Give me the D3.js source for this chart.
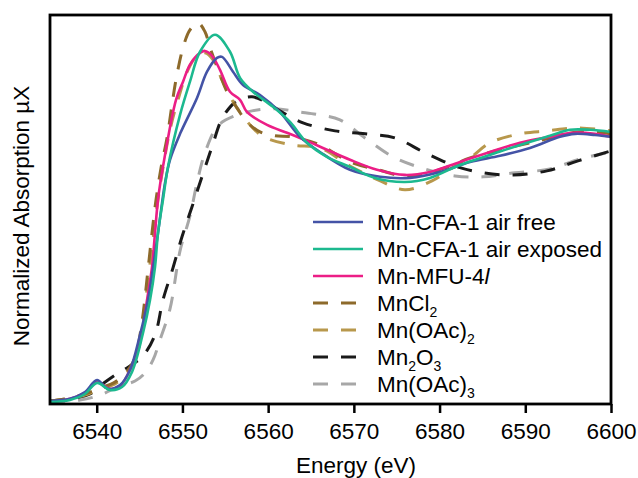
<!DOCTYPE html>
<html>
<head>
<meta charset="utf-8">
<script src="https://cdn.jsdelivr.net/npm/d3@7"></script>
<style>
  body { margin: 0; background: #fff; }
  svg { display: block; font-family: "Liberation Sans", Arial, sans-serif; }
</style>
</head>
<body>
<svg id="chart" width="638" height="478"></svg>
<script>
// spectra: [energy (eV), normalized absorption]
const airFree = [[6534.55,0.011],[6536.88,0.019],[6538.63,0.044],[6540.03,0.089],[6541.32,0.056],[6542.72,0.070],[6543.88,0.126],[6545.05,0.256],[6545.98,0.385],[6547.15,0.633],[6547.97,0.819],[6548.55,0.904],[6549.72,1.0],[6551.70,1.133],[6552.87,1.230],[6554.03,1.281],[6554.62,1.285],[6555.90,1.230],[6557.07,1.181],[6559.05,1.144],[6561.38,1.081],[6563.72,0.989],[6566.05,0.933],[6569.55,0.867],[6573.05,0.841],[6576.55,0.837],[6580.05,0.859],[6583.55,0.896],[6587.05,0.919],[6590.55,0.948],[6594.05,0.989],[6595.80,1.0],[6598.13,0.996],[6600,0.989]]
const airExposed = [[6534.55,0.007],[6536.88,0.015],[6538.63,0.037],[6540.03,0.078],[6541.55,0.052],[6542.95,0.063],[6544.12,0.119],[6545.40,0.263],[6546.22,0.385],[6546.80,0.507],[6547.15,0.633],[6547.73,0.756],[6548.32,0.878],[6549.72,1.070],[6550.88,1.193],[6552.05,1.304],[6553.80,1.367],[6555.55,1.304],[6556.72,1.207],[6558.23,1.156],[6560.57,1.100],[6562.55,1.044],[6564.53,0.967],[6566.86,0.915],[6569.55,0.878],[6572.46,0.837],[6575.96,0.822],[6578.88,0.837],[6582.38,0.885],[6585.88,0.922],[6589.38,0.959],[6592.88,0.993],[6595.21,1.015],[6597.55,1.015],[6600,1.007]]
const mfu4l = [[6534.55,0.007],[6536.88,0.019],[6538.63,0.041],[6540.03,0.081],[6541.55,0.056],[6542.72,0.067],[6543.88,0.126],[6545.28,0.263],[6545.87,0.385],[6546.45,0.507],[6546.80,0.633],[6547.15,0.756],[6547.73,0.878],[6549.25,1.126],[6550.07,1.193],[6550.88,1.256],[6552.05,1.300],[6552.63,1.307],[6553.45,1.289],[6554.38,1.237],[6555.55,1.156],[6556.72,1.126],[6557.53,1.081],[6559.87,1.033],[6562.20,1.004],[6564.53,0.974],[6566.86,0.941],[6569.55,0.904],[6572.70,0.867],[6575.96,0.848],[6578.88,0.859],[6582.38,0.896],[6585.88,0.933],[6589.38,0.967],[6592.88,0.989],[6595.56,1.004],[6598.13,1.0],[6600,0.989]]
const mnCl2 = [[6534.55,0.011],[6536.30,0.019],[6538.63,0.037],[6540.38,0.059],[6542.13,0.081],[6543.65,0.126],[6544.47,0.170],[6545.28,0.304],[6545.98,0.496],[6546.45,0.633],[6546.92,0.756],[6547.50,0.874],[6548.20,0.985],[6548.78,1.107],[6549.25,1.2],[6550.07,1.319],[6550.88,1.385],[6551.82,1.411],[6552.63,1.378],[6553.22,1.319],[6554.38,1.219],[6555.20,1.156],[6556.37,1.096],[6557.53,1.044],[6559.05,1.007],[6560.80,0.993],[6562.78,0.989],[6566.05,0.959],[6569.55,0.896],[6572.81,0.867],[6576.55,0.841],[6580.63,0.874],[6583.55,0.911],[6587.05,0.941],[6590.55,0.967],[6594.05,0.993],[6596.15,1.007],[6600,1.0]]
const mnOAc2 = [[6534.55,0.011],[6536.30,0.019],[6538.63,0.033],[6540.38,0.056],[6542.13,0.074],[6543.65,0.119],[6544.47,0.156],[6545.28,0.274],[6545.98,0.459],[6546.57,0.607],[6547.15,0.756],[6547.73,0.874],[6548.55,1.015],[6549.48,1.126],[6550.65,1.237],[6551.70,1.289],[6552.63,1.300],[6553.57,1.274],[6554.62,1.2],[6555.78,1.126],[6556.95,1.070],[6559.28,0.993],[6562.78,0.959],[6566.05,0.948],[6569.55,0.881],[6572.81,0.830],[6575.96,0.793],[6579.11,0.826],[6581.45,0.874],[6583.55,0.911],[6585.88,0.967],[6589.38,1.0],[6592.53,1.011],[6596.03,1.022],[6600,1.011]]
const mn2O3 = [[6534.55,0.011],[6536.88,0.019],[6539.22,0.037],[6540.38,0.067],[6542.13,0.107],[6543.88,0.141],[6545.40,0.178],[6546.80,0.256],[6547.73,0.385],[6548.90,0.504],[6549.95,0.619],[6551.12,0.730],[6552.28,0.841],[6553.45,0.952],[6554.73,1.063],[6556.37,1.122],[6558.12,1.137],[6559.63,1.119],[6561.61,1.081],[6564.07,1.041],[6567.80,1.011],[6571.30,1.0],[6574.80,0.985],[6578.30,0.930],[6581.80,0.881],[6585.06,0.856],[6588.56,0.848],[6592.53,0.863],[6596.15,0.9],[6600,0.937]]
const mnOAc3 = [[6534.55,0.007],[6538.05,0.015],[6540.38,0.033],[6542.72,0.067],[6544.47,0.085],[6545.63,0.115],[6546.57,0.163],[6547.38,0.237],[6548.55,0.352],[6549.72,0.567],[6550.88,0.696],[6551.70,0.819],[6552.63,0.930],[6554.15,1.030],[6556.13,1.067],[6558.12,1.085],[6560.80,1.093],[6563.72,1.081],[6566.05,1.070],[6568.38,1.052],[6571.30,0.985],[6574.80,0.911],[6578.30,0.870],[6581.80,0.844],[6585.06,0.841],[6588.80,0.856],[6592.88,0.870],[6596.38,0.907],[6600,0.933]]

const xTicks = [6540, 6550, 6560, 6570, 6580, 6590, 6600]

// legend order, label parts: [text, kind]
const series = [
  { name: [['Mn-CFA-1 air free']], data: airFree, color: '#4453a6', dash: null },
  { name: [['Mn-CFA-1 air exposed']], data: airExposed, color: '#1cb98f', dash: null },
  { name: [['Mn-MFU-4'], ['l', 'italic']], data: mfu4l, color: '#ec1e86', dash: null },
  { name: [['MnCl'], ['2', 'sub']], data: mnCl2, color: '#8d6a2b', dash: '15,13' },
  { name: [['Mn(OAc)'], ['2', 'sub']], data: mnOAc2, color: '#b8984c', dash: '15,13' },
  { name: [['Mn'], ['2', 'sub'], ['O'], ['3', 'sub']], data: mn2O3, color: '#1a1a1a', dash: '15,13' },
  { name: [['Mn(OAc)'], ['3', 'sub']], data: mnOAc3, color: '#a7a7a7', dash: '15,13' },
]

const svg = d3.select('#chart')
const plotL = 50, plotR = 611, plotT = 15, plotB = 404

const x = d3.scaleLinear().domain([6534.55, 6600]).range([plotL, plotR])
const y = d3.scaleLinear().domain([0, 1.44]).range([plotB, plotT])

const line = d3.line()
  .x(d => x(d[0]))
  .y(d => y(d[1]))
  .curve(d3.curveCatmullRom.alpha(0.5))

// dashed references underneath, solid samples on top
const drawOrder = [6, 5, 4, 3, 2, 0, 1]
drawOrder.forEach(i => {
  const s = series[i]
  svg.append('path')
    .attr('d', line(s.data))
    .attr('fill', 'none')
    .attr('stroke', s.color)
    .attr('stroke-width', s.dash ? 3 : 2.6)
    .attr('stroke-dasharray', s.dash)
})

// x axis with outward ticks
const xAxis = svg.append('g')
  .attr('transform', `translate(0,${plotB})`)
  .call(d3.axisBottom(x).tickValues(xTicks).tickSize(9).tickPadding(10).tickFormat(d3.format('d')))
xAxis.select('.domain').remove()
xAxis.selectAll('line').attr('stroke', '#000').attr('stroke-width', 2.5)
xAxis.selectAll('text').attr('font-size', 22.5).attr('fill', '#000')
  .attr('font-family', '"Liberation Sans", Arial, sans-serif')

// frame
svg.append('rect')
  .attr('x', plotL).attr('y', plotT)
  .attr('width', plotR - plotL).attr('height', plotB - plotT)
  .attr('fill', 'none').attr('stroke', '#000').attr('stroke-width', 2.8)

svg.append('text')
  .attr('x', 356).attr('y', 473)
  .attr('text-anchor', 'middle').attr('font-size', 22.5)
  .text('Energy (eV)')

svg.append('text')
  .attr('transform', 'translate(29,216) rotate(-90)')
  .attr('text-anchor', 'middle').attr('font-size', 22.5)
  .text('Normalized Absorption µX')

// legend
const legend = svg.append('g')
series.forEach((s, i) => {
  const ly = 222 + i * 27
  legend.append('line')
    .attr('x1', 313).attr('x2', 363).attr('y1', ly).attr('y2', ly)
    .attr('stroke', s.color)
    .attr('stroke-width', s.dash ? 3 : 2.6)
    .attr('stroke-dasharray', s.dash)
  const t = legend.append('text')
    .attr('x', 377).attr('y', ly + 8).attr('font-size', 22.5)
  let shifted = false
  s.name.forEach(([txt, kind]) => {
    const span = t.append('tspan').text(txt)
    if (kind === 'sub') {
      span.attr('font-size', 14).attr('dy', 6)
      shifted = true
    } else {
      if (shifted) { span.attr('dy', -6); shifted = false }
      if (kind === 'italic') span.attr('font-style', 'italic')
    }
  })
})
</script>
</body>
</html>
